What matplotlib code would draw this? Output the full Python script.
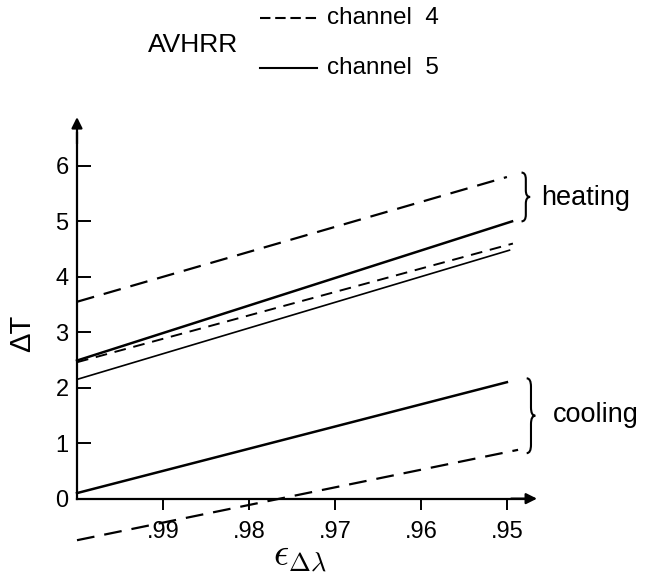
import matplotlib.pyplot as plt
from matplotlib.path import Path
from matplotlib.patches import PathPatch
from matplotlib.lines import Line2D

plt.rcParams['font.family'] = ['Liberation Sans', 'DejaVu Sans']
plt.rcParams['mathtext.fontset'] = 'cm'

# emissivity at both ends of each line (x axis runs from 1.00 down to .95)
eps_heat_ch4 = [1.00, 0.9500]
eps_heat_ch5 = [1.00, 0.9494]
eps_mid_ch4 = [1.00, 0.9493]
eps_mid_ch5 = [1.00, 0.9497]
eps_cool_ch5 = [1.00, 0.9500]
eps_cool_ch4 = [1.00, 0.9487]

# temperature deficit dT
dT_heat_ch4 = [3.55, 5.80]
dT_heat_ch5 = [2.49, 5.00]
dT_mid_ch4 = [2.46, 4.60]
dT_mid_ch5 = [2.15, 4.48]
dT_cool_ch5 = [0.10, 2.10]
dT_cool_ch4 = [-0.75, 0.88]

xticks = [0.99, 0.98, 0.97, 0.96, 0.95]
xticklabels = ['.99', '.98', '.97', '.96', '.95']
yticks = [0, 1, 2, 3, 4, 5, 6]

fig = plt.figure(figsize=(6.48, 5.8), dpi=100)
ax = fig.add_axes([77 / 648, 37 / 580, 460 / 648, 427 / 580])
ax.set_xlim(1.0, 0.9465)
ax.set_ylim(-0.8, 6.9)

dash = (0, (8, 4.5))
ax.plot(eps_heat_ch4, dT_heat_ch4, color='k', lw=1.6, ls=dash, clip_on=False)
ax.plot(eps_heat_ch5, dT_heat_ch5, color='k', lw=1.8, clip_on=False)
ax.plot(eps_mid_ch4, dT_mid_ch4, color='k', lw=1.4, ls=(0, (6, 4)), clip_on=False)
ax.plot(eps_mid_ch5, dT_mid_ch5, color='k', lw=1.2, clip_on=False)
ax.plot(eps_cool_ch5, dT_cool_ch5, color='k', lw=1.8, clip_on=False)
ax.plot(eps_cool_ch4, dT_cool_ch4, color='k', lw=1.6, ls=dash, clip_on=False)

# axes with arrow heads
for s in ['top', 'right']:
    ax.spines[s].set_visible(False)
ax.spines['bottom'].set_position(('data', 0))
ax.spines['left'].set_position(('data', 1.0))
ax.spines['left'].set_bounds(0, 6.6)
ax.spines['bottom'].set_bounds(1.0, 0.9475)
ax.spines['left'].set_linewidth(1.6)
ax.spines['bottom'].set_linewidth(1.6)
ax.annotate('', xy=(0.9465, 0), xytext=(0.9495, 0),
            arrowprops=dict(arrowstyle='-|>', color='k', lw=1.6, mutation_scale=16,
                            shrinkA=0, shrinkB=0))
ax.annotate('', xy=(1.0, 6.88), xytext=(1.0, 6.4),
            arrowprops=dict(arrowstyle='-|>', color='k', lw=1.6, mutation_scale=16,
                            shrinkA=0, shrinkB=0))

ax.set_xticks(xticks)
ax.set_xticklabels(xticklabels)
ax.set_yticks(yticks)
ax.tick_params(axis='x', direction='out', length=8, width=1.4, pad=8, labelsize=17)
ax.tick_params(axis='y', direction='in', length=10, width=1.4, pad=6, labelsize=17)


def brace(x0, y0, y1, w, dy):
    ym = (y0 + y1) / 2
    xm = x0 + w / 2
    verts = [(x0, y1), (xm, y1), (xm, y1 - dy), (xm, ym + dy), (xm, ym), (x0 + w, ym),
             (xm, ym), (xm, ym - dy), (xm, y0 + dy), (xm, y0), (x0, y0)]
    codes = [Path.MOVETO, Path.CURVE3, Path.CURVE3, Path.LINETO, Path.CURVE3, Path.CURVE3,
             Path.CURVE3, Path.CURVE3, Path.LINETO, Path.CURVE3, Path.CURVE3]
    ax.add_patch(PathPatch(Path(verts, codes), fill=False, lw=1.5, clip_on=False))


brace(0.9483, 5.0, 5.88, -0.0010, 0.12)
brace(0.9477, 0.82, 2.17, -0.0010, 0.15)
ax.text(0.9460, 5.42, 'heating', fontsize=19.5, va='center', ha='left')
ax.text(0.9446, 1.5, 'cooling', fontsize=19.5, va='center', ha='left')

# labels
fig.text(22 / 648, 1 - 333 / 580, 'ΔT', rotation=90, fontsize=21,
         ha='center', va='center')
fig.text(300 / 648, 1 - 557 / 580, r'$\epsilon_{\Delta\lambda}$', fontsize=27,
         ha='center', va='center')

# legend at the top
fig.text(148 / 648, 1 - 45 / 580, 'AVHRR', fontsize=19, ha='left', va='center')
fig.add_artist(Line2D([260 / 648, 317 / 648], [1 - 18 / 580, 1 - 18 / 580],
                      color='k', lw=1.5, ls=(0, (5, 2.3))))
fig.add_artist(Line2D([260 / 648, 317 / 648], [1 - 68 / 580, 1 - 68 / 580],
                      color='k', lw=1.5))
fig.text(327 / 648, 1 - 18 / 580, 'channel  4', fontsize=17.5, ha='left', va='center')
fig.text(327 / 648, 1 - 68 / 580, 'channel  5', fontsize=17.5, ha='left', va='center')

fig.savefig('out.png', dpi=100)
